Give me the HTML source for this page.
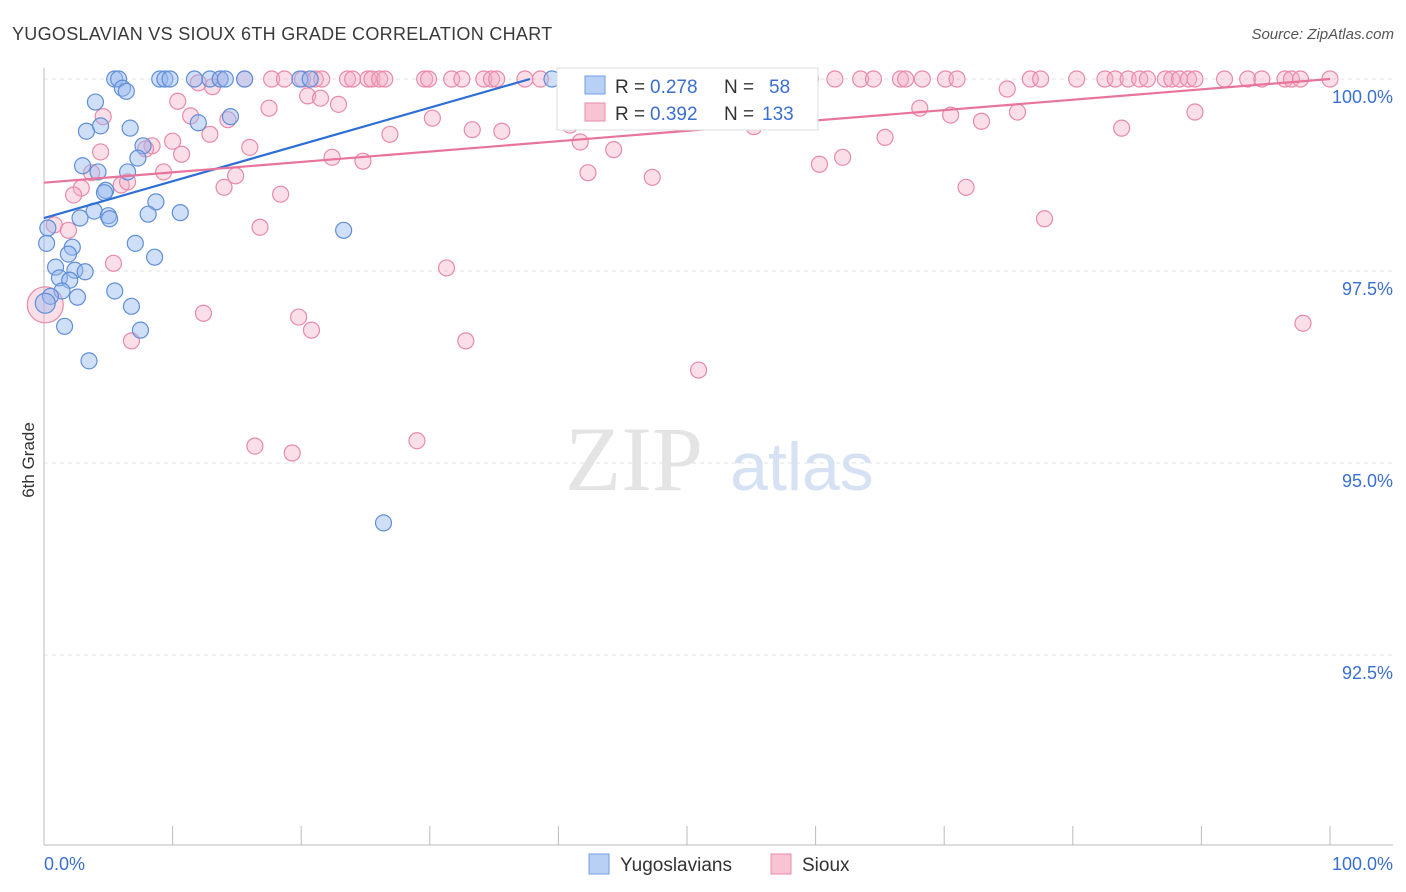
<!DOCTYPE html>
<html><head><meta charset="utf-8"><style>
body{margin:0;background:#fff;font-family:"Liberation Sans",sans-serif;}
svg{display:block}
</style></head><body>
<svg id="chart" width="1406" height="892" xmlns="http://www.w3.org/2000/svg">
<text x="12" y="40" font-size="18" fill="#3a3a3a" letter-spacing="0.3">YUGOSLAVIAN VS SIOUX 6TH GRADE CORRELATION CHART</text>
<text x="1394" y="39" font-size="15" fill="#555" text-anchor="end" font-style="italic">Source: ZipAtlas.com</text>
<text x="34" y="460" font-size="17" fill="#333" transform="rotate(-90 34 460)" text-anchor="middle">6th Grade</text>
<g id="grid"></g>
<text x="634" y="490" font-size="92" fill="#e4e4e4" font-family="Liberation Serif,serif" text-anchor="middle">ZIP</text>
<text x="802" y="490" font-size="68" fill="#d6e2f4" text-anchor="middle">atlas</text>
<g id="marks"></g>
<g>
<rect x="557" y="68" width="261" height="62" fill="#fff" stroke="#ddd"/>
<rect x="585" y="76" width="20" height="18" fill="#b8d0f4" stroke="#6f9de0"/>
<rect x="585" y="103" width="20" height="18" fill="#f8c3d3" stroke="#e88aa8"/>
<text x="615" y="93" font-size="19" fill="#333">R =</text>
<text x="650" y="93" font-size="19" fill="#3a6fd0">0.278</text>
<text x="724" y="93" font-size="19" fill="#333">N =</text>
<text x="769" y="93" font-size="19" fill="#3a6fd0">58</text>
<text x="615" y="120" font-size="19" fill="#333">R =</text>
<text x="650" y="120" font-size="19" fill="#3a6fd0">0.392</text>
<text x="724" y="120" font-size="19" fill="#333">N =</text>
<text x="762" y="120" font-size="19" fill="#3a6fd0">133</text>
</g>
<g>
<rect x="589" y="854" width="20" height="20" fill="#b8d0f4" stroke="#6f9de0"/>
<text x="620" y="871" font-size="19" fill="#333">Yugoslavians</text>
<rect x="771" y="854" width="20" height="20" fill="#f8c3d3" stroke="#e88aa8"/>
<text x="802" y="871" font-size="19" fill="#333">Sioux</text>
</g>
</svg>
<script>
const yTicks=[100,97.5,95,92.5];
const yTickLabels=["100.0%","97.5%","95.0%","92.5%"];
const xTicks=[0,10,20,30,40,50,60,70,80,90,100];
const blueX=[5.5,5.8,9.0,9.4,9.8,11.7,12.9,13.7,14.1,15.6,19.9,20.7,39.5,6.1,6.4,4.0,14.5,3.3,4.4,6.7,12.0,7.7,7.3,3.0,4.2,6.5,4.8,4.7,8.7,3.9,2.8,5.0,5.1,8.1,10.6,23.3,0.3,0.2,2.2,7.1,1.9,8.6,0.9,2.4,3.2,1.2,2.0,5.5,1.4,0.5,2.6,6.8,1.6,7.5,3.5,26.4,0.1];
const blueY=[100,100,100,100,100,100,100,100,100,100,100,100,100,99.88,99.84,99.70,99.51,99.32,99.39,99.36,99.43,99.13,98.97,98.87,98.79,98.79,98.55,98.52,98.40,98.28,98.19,98.22,98.18,98.24,98.26,98.03,98.06,97.86,97.81,97.86,97.72,97.68,97.55,97.51,97.49,97.41,97.38,97.24,97.24,97.17,97.16,97.04,96.78,96.73,96.33,94.22,97.08];
const pinkTopX=[15.6,17.7,18.7,20.1,21.1,21.6,23.6,24.0,25.2,25.5,26.1,26.5,29.6,29.9,31.7,32.5,34.2,34.8,35.2,37.4,38.6,42.5,43.2,44.2,45.7,47.1,48.3,51.0,52.2,54.9,56.8,58.0,59.6,61.5,63.5,64.5,66.6,67.0,68.3,70.1,71.0,76.7,77.5,80.3,82.5,83.3,84.3,85.2,85.8,87.2,87.7,88.3,89.0,89.5,91.8,93.6,94.7,96.5,97.0,97.7,100,13.7];
const pinkX=[13.1,10.4,12.0,20.5,21.5,22.9,17.5,4.6,11.4,14.3,74.9,68.1,70.5,72.9,75.7,89.5,83.8,30.2,33.3,35.6,26.9,40.9,41.7,44.3,12.9,16.0,10.0,8.4,7.9,10.7,4.4,22.4,24.8,65.4,62.1,60.3,55.2,9.3,3.7,2.9,2.3,6.0,6.5,14.9,42.3,47.3,14.0,18.4,71.7,77.8,0.8,1.9,16.8,5.4,31.3,12.4,19.8,20.8,6.8,32.8,97.9,50.9,16.4,19.3,29.0,0.1];
const pinkY=[99.9,99.71,99.95,99.78,99.75,99.67,99.62,99.51,99.52,99.47,99.87,99.62,99.53,99.45,99.57,99.57,99.36,99.49,99.34,99.32,99.28,99.40,99.18,99.08,99.28,99.11,99.19,99.13,99.09,99.02,99.05,98.98,98.93,99.24,98.98,98.89,99.38,98.79,98.78,98.58,98.49,98.62,98.66,98.74,98.78,98.72,98.59,98.50,98.59,98.18,98.10,98.03,98.07,97.60,97.54,96.95,96.90,96.73,96.59,96.59,96.82,96.21,95.22,95.13,95.29,97.06];
const blueTrendX=[0,37.8], blueTrendY=[98.19,100];
const pinkTrendX=[0,100], pinkTrendY=[98.65,100];

const NS="http://www.w3.org/2000/svg";
const sx=v=>44+v*12.86;
const sy=v=>79+(100-v)*76.8;
const grid=document.getElementById('grid'), marks=document.getElementById('marks');
function mk(tag,attrs,parent){const e=document.createElementNS(NS,tag);for(const k in attrs)e.setAttribute(k,attrs[k]);parent.appendChild(e);return e;}
yTicks.forEach((t,i)=>{
  const l=mk('line',{x1:44,x2:1393,y1:sy(t),y2:sy(t),stroke:'#e2e2e2','stroke-dasharray':'4,4'},grid);
  
  
  const tx=mk('text',{x:1393,y:sy(t)+24,'font-size':18,fill:'#3a6fd0','text-anchor':'end'},grid);
  tx.textContent=yTickLabels[i];
  
  
});
const ax=mk('line',{x1:44,x2:1393,y1:845,y2:845,stroke:'#bbb'},grid);


const ay=mk('line',{x1:44,x2:44,y1:68,y2:845,stroke:'#bbb'},grid);


xTicks.forEach(t=>{
  const l=mk('line',{x1:sx(t),x2:sx(t),y1:826,y2:845,stroke:'#bbb'},grid);
  
  
});
[["0.0%",44,'start'],["100.0%",1393,'end']].forEach(a=>{
  const tx=mk('text',{x:a[1],y:870,'font-size':18,fill:'#3a6fd0','text-anchor':a[2]},grid);
  tx.textContent=a[0];
  
  
});
function dot(x,y,r,fill,stroke,name){
  const c=mk('circle',{cx:sx(x),cy:sy(y),r:r,fill:fill,stroke:stroke,'stroke-width':1.2},marks);
  
  
}
const pf='rgba(245,170,195,0.38)',ps='#e88aa8',bf='rgba(150,185,240,0.45)',bs='#5f8fd8';
pinkTopX.forEach(x=>dot(x,100,8,pf,ps,'sioux-point'));
pinkX.forEach((x,i)=>dot(x,pinkY[i],i==pinkX.length-1?18:8,pf,ps,'sioux-point'));
blueX.forEach((x,i)=>dot(x,blueY[i],i==blueX.length-1?10:8,bf,bs,'yugoslavian-point'));
const bl=mk('line',{x1:sx(blueTrendX[0]),y1:sy(blueTrendY[0]),x2:sx(blueTrendX[1]),y2:sy(blueTrendY[1]),stroke:'#2e6fd6','stroke-width':2.2},marks);


const pl=mk('line',{x1:sx(pinkTrendX[0]),y1:sy(pinkTrendY[0]),x2:sx(pinkTrendX[1]),y2:sy(pinkTrendY[1]),stroke:'#e8749a','stroke-width':2.2},marks);


</script>
</body></html>
